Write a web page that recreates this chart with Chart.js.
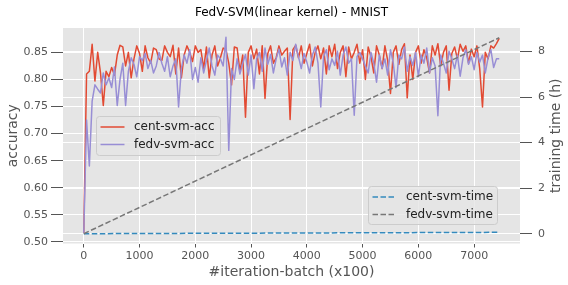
<!DOCTYPE html>
<html>
<head>
<meta charset="utf-8">
<script src="https://cdn.jsdelivr.net/npm/chart.js@4.4.0/dist/chart.umd.min.js"></script>
<style>
  html, body { margin: 0; padding: 0; background: #fff; }
</style>
</head>
<body>
<canvas id="chart" width="568" height="285"></canvas>
<script>
// dados (iteração a cada 50 batches x100)
const iterations = Array.from({ length: 150 }, (_, i) => i * 50);

const centAcc = [
  0.517, 0.810, 0.815, 0.865, 0.797, 0.850, 0.812, 0.752, 0.815, 0.805, 0.822, 0.808, 0.845, 0.863, 0.860, 0.825, 0.850, 0.803, 0.838, 0.862,
  0.848, 0.815, 0.862, 0.840, 0.830, 0.858, 0.855, 0.838, 0.835, 0.862, 0.850, 0.842, 0.863, 0.810, 0.858, 0.803, 0.845, 0.862, 0.850, 0.833,
  0.862, 0.850, 0.855, 0.820, 0.860, 0.803, 0.845, 0.862, 0.825, 0.840, 0.858, 0.855, 0.830, 0.790, 0.860, 0.858, 0.815, 0.845, 0.730, 0.850,
  0.862, 0.838, 0.856, 0.810, 0.862, 0.765, 0.848, 0.862, 0.830, 0.840, 0.862, 0.845, 0.852, 0.858, 0.726, 0.855, 0.863, 0.840, 0.862, 0.830,
  0.848, 0.865, 0.825, 0.850, 0.862, 0.838, 0.858, 0.810, 0.862, 0.842, 0.865, 0.820, 0.850, 0.862, 0.805, 0.860, 0.838, 0.850, 0.865, 0.830,
  0.855, 0.800, 0.860, 0.842, 0.812, 0.862, 0.845, 0.820, 0.862, 0.835, 0.774, 0.850, 0.862, 0.828, 0.855, 0.866, 0.766, 0.845, 0.800, 0.850,
  0.862, 0.830, 0.855, 0.840, 0.812, 0.862, 0.845, 0.866, 0.825, 0.850, 0.862, 0.780, 0.848, 0.860, 0.838, 0.865, 0.852, 0.862, 0.830, 0.856,
  0.842, 0.862, 0.820, 0.749, 0.850, 0.838, 0.862, 0.858, 0.866, 0.876
];

const fedvAcc = [
  0.517, 0.725, 0.640, 0.760, 0.790, 0.782, 0.775, 0.812, 0.790, 0.803, 0.785, 0.823, 0.752, 0.800, 0.830, 0.752, 0.815, 0.840, 0.828, 0.805,
  0.842, 0.835, 0.848, 0.820, 0.835, 0.812, 0.825, 0.850, 0.830, 0.815, 0.842, 0.805, 0.825, 0.838, 0.749, 0.820, 0.845, 0.830, 0.855, 0.800,
  0.822, 0.795, 0.840, 0.812, 0.835, 0.858, 0.825, 0.808, 0.845, 0.838, 0.825, 0.878, 0.669, 0.820, 0.800, 0.838, 0.810, 0.830, 0.846, 0.808,
  0.845, 0.783, 0.838, 0.850, 0.815, 0.858, 0.828, 0.846, 0.812, 0.838, 0.856, 0.823, 0.840, 0.808, 0.850, 0.835, 0.865, 0.842, 0.820, 0.848,
  0.832, 0.812, 0.845, 0.860, 0.830, 0.749, 0.842, 0.855, 0.818, 0.838, 0.826, 0.852, 0.808, 0.845, 0.860, 0.830, 0.838, 0.734, 0.842, 0.850,
  0.838, 0.825, 0.812, 0.850, 0.830, 0.795, 0.845, 0.820, 0.838, 0.808, 0.855, 0.830, 0.785, 0.845, 0.838, 0.860, 0.815, 0.842, 0.826, 0.850,
  0.805, 0.845, 0.830, 0.858, 0.812, 0.840, 0.825, 0.733, 0.845, 0.830, 0.812, 0.852, 0.838, 0.820, 0.845, 0.806, 0.840, 0.855, 0.828, 0.842,
  0.818, 0.850, 0.832, 0.845, 0.812, 0.840, 0.855, 0.822, 0.838, 0.838
];

// tempo de treino (h), linhas retas do início ao fim
const timeIters = [0, 7450];
const centTime = [0, 0.06];
const fedvTime = [0, 8.6];

// rótulos dos eixos
const xTicks = [0, 1000, 2000, 3000, 4000, 5000, 6000, 7000];
const accTicks = [0.50, 0.55, 0.60, 0.65, 0.70, 0.75, 0.80, 0.85];
const timeTicks = [0, 2, 4, 6, 8];

const FONT = '"DejaVu Sans", sans-serif';
const TICK_COLOR = '#555555';

function toPoints(xs, ys) {
  return ys.map((v, i) => ({ x: xs[i], y: v }));
}

function drawLegend(ctx, x, y, w, h, items) {
  ctx.save();
  ctx.fillStyle = 'rgba(229,229,229,0.8)';
  ctx.strokeStyle = '#cccccc';
  ctx.lineWidth = 1;
  ctx.beginPath();
  ctx.roundRect(x + 0.5, y + 0.5, w, h, 3);
  ctx.fill();
  ctx.stroke();
  items.forEach((it, i) => {
    const cy = y + 11 + i * 17.5;
    ctx.strokeStyle = it.color;
    ctx.lineWidth = 1.5;
    ctx.setLineDash(it.dash || []);
    ctx.beginPath();
    ctx.moveTo(x + 4.5, cy);
    ctx.lineTo(x + 28.5, cy);
    ctx.stroke();
    ctx.setLineDash([]);
    ctx.fillStyle = '#222';
    ctx.font = '12px ' + FONT;
    ctx.textBaseline = 'middle';
    ctx.textAlign = 'left';
    ctx.fillText(it.label, x + 38, cy);
  });
  ctx.restore();
}

// fundo cinza + títulos + legendas
const decorPlugin = {
  id: 'decor',
  beforeDraw(chart) {
    const { ctx, chartArea: a } = chart;
    ctx.save();
    ctx.fillStyle = '#E5E5E5';
    ctx.fillRect(a.left, a.top, a.right - a.left, a.bottom - a.top);
    ctx.restore();
  },
  afterDraw(chart) {
    const { ctx, chartArea: a } = chart;
    const cx = (a.left + a.right) / 2;
    const cy = (a.top + a.bottom) / 2;
    ctx.save();
    ctx.textAlign = 'center';
    ctx.textBaseline = 'middle';
    ctx.fillStyle = '#000';
    ctx.font = '12px ' + FONT;
    ctx.fillText('FedV-SVM(linear kernel) - MNIST', cx, 13);

    ctx.fillStyle = TICK_COLOR;
    ctx.font = '14px ' + FONT;
    ctx.fillText('#iteration-batch (x100)', cx, 272);

    ctx.save();
    ctx.translate(13, cy);
    ctx.rotate(-Math.PI / 2);
    ctx.fillText('accuracy', 0, 0);
    ctx.restore();

    ctx.save();
    ctx.translate(556, cy);
    ctx.rotate(-Math.PI / 2);
    ctx.fillText('training time (h)', 0, 0);
    ctx.restore();
    ctx.restore();

    drawLegend(ctx, a.left + 33, 116, 124, 39, [
      { label: 'cent-svm-acc', color: '#E24A33' },
      { label: 'fedv-svm-acc', color: '#988ED5' }
    ]);
    drawLegend(ctx, 368, 186, 129, 38, [
      { label: 'cent-svm-time', color: '#348ABD', dash: [5.5, 2.5] },
      { label: 'fedv-svm-time', color: '#777777', dash: [5.5, 2.5] }
    ]);
  }
};

function fixedTicks(values) {
  return scale => { scale.ticks = values.map(v => ({ value: v })); };
}

new Chart(document.getElementById('chart'), {
  type: 'line',
  data: {
    datasets: [
      {
        label: 'fedv-svm-time',
        data: toPoints(timeIters, fedvTime),
        yAxisID: 'y2',
        borderColor: '#777777',
        borderWidth: 1.5,
        borderDash: [5.5, 2.5]
      },
      {
        label: 'cent-svm-time',
        data: toPoints(timeIters, centTime),
        yAxisID: 'y2',
        borderColor: '#348ABD',
        borderWidth: 1.5,
        borderDash: [5.5, 2.5]
      },
      {
        label: 'fedv-svm-acc',
        data: toPoints(iterations, fedvAcc),
        yAxisID: 'y',
        borderColor: '#988ED5',
        borderWidth: 1.5
      },
      {
        label: 'cent-svm-acc',
        data: toPoints(iterations, centAcc),
        yAxisID: 'y',
        borderColor: '#E24A33',
        borderWidth: 1.5
      }
    ]
  },
  options: {
    responsive: false,
    devicePixelRatio: 1,
    animation: false,
    layout: { padding: { top: 28, left: 0, right: 0, bottom: 0 } },
    elements: {
      point: { radius: 0 },
      line: { tension: 0, borderJoinStyle: 'round', borderCapStyle: 'butt' }
    },
    plugins: {
      legend: { display: false },
      title: { display: false },
      tooltip: { enabled: false }
    },
    scales: {
      x: {
        type: 'linear',
        min: -372.5,
        max: 7822.5,
        afterBuildTicks: fixedTicks(xTicks),
        afterFit: s => { s.height = 41.5; },
        border: { display: false },
        grid: { color: '#ffffff', lineWidth: 1, tickColor: TICK_COLOR, tickLength: 4 },
        ticks: { color: TICK_COLOR, font: { family: FONT, size: 11 }, padding: 2, maxRotation: 0, autoSkip: false, callback: v => String(v) }
      },
      y: {
        position: 'left',
        min: 0.497,
        max: 0.895,
        afterBuildTicks: fixedTicks(accTicks),
        afterFit: s => { s.width = 63; },
        border: { display: false },
        grid: { color: '#ffffff', lineWidth: 1, tickColor: TICK_COLOR, tickLength: 12 },
        ticks: { color: TICK_COLOR, font: { family: FONT, size: 11 }, padding: 3, callback: v => v.toFixed(2) }
      },
      y2: {
        position: 'right',
        min: -0.43,
        max: 9.03,
        afterBuildTicks: fixedTicks(timeTicks),
        afterFit: s => { s.width = 48; },
        border: { display: false },
        grid: { color: '#ffffff', lineWidth: 1, tickColor: TICK_COLOR, tickLength: 12 },
        ticks: { color: TICK_COLOR, font: { family: FONT, size: 11 }, padding: 6, callback: v => String(v) }
      }
    }
  },
  plugins: [decorPlugin]
});
</script>
</body>
</html>
